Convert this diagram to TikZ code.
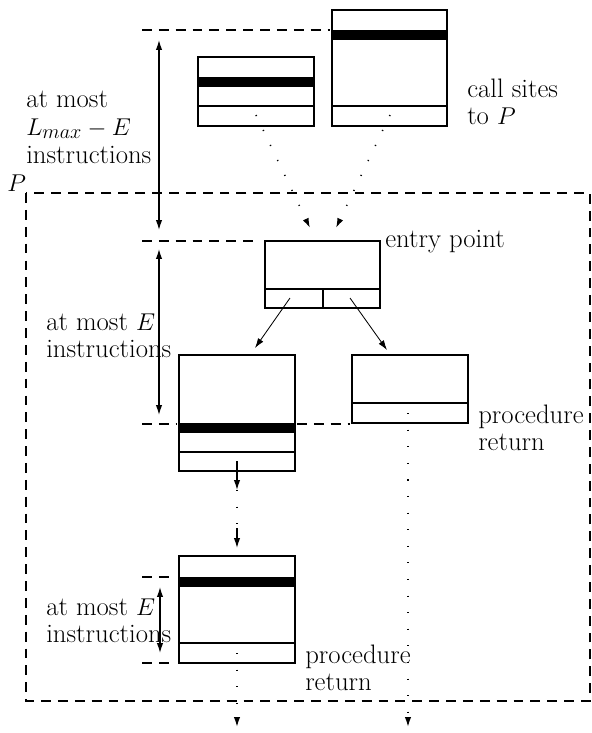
\documentclass[tikz,border=0pt]{standalone}
\usetikzlibrary{arrows.meta}
\begin{document}
\begin{tikzpicture}[x=0.025cm, y=-0.025cm, >={Latex[length=7pt,width=4.5pt]},
    box/.style={line width=1.3pt},
    sep/.style={line width=0.8pt},
    level/.style={line width=1.2pt, dash pattern=on 7pt off 5pt},
    span/.style={<->, line width=0.9pt},
    flow/.style={->, line width=0.6pt},
    dotflow/.style={->, line width=1.1pt, dash pattern=on 0.8pt off 11pt},
    lbl/.style={anchor=base west, inner sep=0pt, font=\fontsize{19}{22}\selectfont}]
    \useasboundingbox (0,0) rectangle (592,733);
    % procedure P
    \draw [level] (26,193) rectangle (590,701);
    \node [lbl] (plbl) at (7,191) {$P$};
    % call sites
    \draw [box] (198,57) rectangle (314,126);
    \fill (198,77) rectangle (314,87);
    \draw [sep] (198,106) -- (314,106);
    \draw [box] (332,10) rectangle (447,126);
    \fill (332,30) rectangle (447,40);
    \draw [sep] (332,106) -- (447,106);
    \node [lbl] (call1) at (467,97) {call sites};
    \node [lbl] (call2) at (467,124) {to $P$};
    \coordinate (siteA) at (256,115);
    \coordinate (siteB) at (390,115);
    \coordinate (inA) at (310,228);
    \coordinate (inB) at (336,228);
    \draw [dotflow] (siteA) -- (inA);
    \draw [dotflow] (siteB) -- (inB);
    % entry block
    \draw [box] (265,241) rectangle (380,308);
    \draw [sep] (265,289) -- (380,289);
    \draw [box] (323,289) -- (323,308);
    \node [lbl] (entry) at (385,247) {entry point};
    \coordinate (outL) at (290,298);
    \coordinate (outR) at (350,298);
    \coordinate (inC) at (255,348);
    \coordinate (inD) at (387,350);
    \draw [flow] (outL) -- (inC);
    \draw [flow] (outR) -- (inD);
    % block C
    \draw [box] (179,355) rectangle (295,471);
    \fill (179,423) rectangle (295,433);
    \draw [sep] (179,452) -- (295,452);
    % block D
    \draw [box] (352,355) rectangle (468,423);
    \draw [sep] (352,403) -- (468,403);
    \node [lbl] (ret1) at (478,423) {procedure};
    \node [lbl] (ret2) at (478,450) {return};
    % block E
    \draw [box] (179,556) rectangle (295,663);
    \fill (179,577) rectangle (295,587);
    \draw [sep] (179,643) -- (295,643);
    \node [lbl] (ret3) at (305,663) {procedure};
    \node [lbl] (ret4) at (305,690) {return};
    % path from C to E
    \coordinate (c0) at (237,461);
    \coordinate (c1) at (237,490);
    \coordinate (c2) at (237,528);
    \coordinate (c3) at (237,548);
    \draw [->, line width=0.9pt] (c0) -- (c1);
    \draw [dotflow, -] (c1) -- (c2);
    \draw [->, line width=0.9pt] (c2) -- (c3);
    % exits
    \coordinate (dD) at (408,413);
    \coordinate (dE) at (237,653);
    \coordinate (endD) at (408,727);
    \coordinate (endE) at (237,727);
    \draw [dotflow] (dD) -- (endD);
    \draw [dotflow] (dE) -- (endE);
    % levels
    \draw [level] (142,30) -- (330,30);
    \draw [level] (142,241) -- (258,241);
    \draw [level] (142,424) -- (177,424);
    \draw [level] (297,424) -- (350,424);
    \draw [level] (142,577) -- (175,577);
    \draw [level] (142,663) -- (175,663);
    % spans
    \coordinate (s1a) at (159,40);
    \coordinate (s1b) at (159,230);
    \coordinate (s2a) at (159,249);
    \coordinate (s2b) at (159,415);
    \coordinate (s3a) at (160,587);
    \coordinate (s3b) at (160,653);
    \draw [span] (s1a) -- (s1b);
    \draw [span] (s2a) -- (s2b);
    \draw [span] (s3a) -- (s3b);
    \node [lbl] (top1) at (26,107) {at most};
    \node [lbl] (top2) at (26,135) {$L_{max}-E$};
    \node [lbl] (top3) at (26,163) {instructions};
    \node [lbl] (mid1) at (46,330) {at most $E$};
    \node [lbl] (mid2) at (46,357) {instructions};
    \node [lbl] (bot1) at (46,615) {at most $E$};
    \node [lbl] (bot2) at (46,642) {instructions};
\end{tikzpicture}
\end{document}
